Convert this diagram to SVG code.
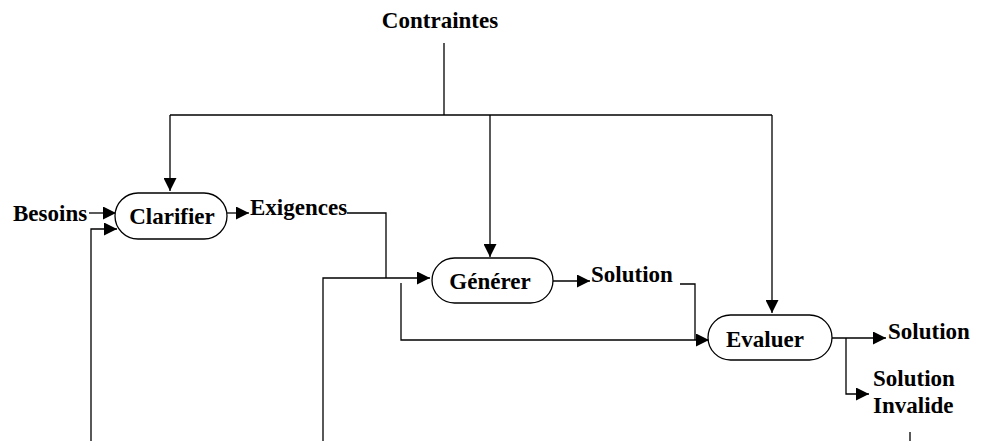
<svg xmlns="http://www.w3.org/2000/svg" width="982" height="441" viewBox="0 0 982 441">
<defs>
<style>
.t{font-family:"Liberation Serif","Times New Roman",serif;font-weight:bold;font-size:23px;fill:#000}
.n{fill:#fff;stroke:#000;stroke-width:1.3}
.c{fill:none;stroke:#000;stroke-width:1.3}
</style>
<marker id="a" viewBox="0 0 13 13" refX="13" refY="6.5" markerWidth="13" markerHeight="13" markerUnits="userSpaceOnUse" orient="auto">
<path d="M0,0L13,6.5L0,13Z" fill="#000"/>
</marker>
</defs>
<rect width="982" height="441" fill="#fff"/>
<g id="connectors">
<path class="c" d="M444,43V115"/>
<path class="c" d="M170,115H772"/>
<path class="c" d="M170,115V191" marker-end="url(#a)"/>
<path class="c" d="M490,115V257" marker-end="url(#a)"/>
<path class="c" d="M772,115V313" marker-end="url(#a)"/>
<path class="c" d="M89,213H116" marker-end="url(#a)"/>
<path class="c" d="M91,441V229H117" marker-end="url(#a)"/>
<path class="c" d="M227,213H249" marker-end="url(#a)"/>
<path class="c" d="M347,213H386V278"/>
<path class="c" d="M323,441V278H430" marker-end="url(#a)"/>
<path class="c" d="M553,281H590" marker-end="url(#a)"/>
<path class="c" d="M680,284H695V340"/>
<path class="c" d="M401,283V340H709" marker-end="url(#a)"/>
<path class="c" d="M832,338H886" marker-end="url(#a)"/>
<path class="c" d="M846,338V394H869" marker-end="url(#a)"/>
<path class="c" d="M910,432V441"/>
</g>
<g id="contraintes"><text class="t" x="440" y="28" text-anchor="middle">Contraintes</text></g>
<g id="besoins"><text class="t" x="13" y="221">Besoins</text></g>
<g id="clarifier"><rect class="n" x="115" y="193" width="112" height="46" rx="23"/><text class="t" x="172" y="224" text-anchor="middle">Clarifier</text></g>
<g id="exigences"><text class="t" x="250" y="215">Exigences</text></g>
<g id="generer"><rect class="n" x="432" y="258" width="121" height="45" rx="22.5"/><text class="t" x="490" y="289" text-anchor="middle">Générer</text></g>
<g id="solution1"><text class="t" x="591" y="282">Solution</text></g>
<g id="evaluer"><rect class="n" x="708" y="315" width="124" height="45" rx="22.5"/><text class="t" x="765" y="347" text-anchor="middle">Evaluer</text></g>
<g id="solution2"><text class="t" x="888" y="339">Solution</text></g>
<g id="invalide"><text class="t" x="873" y="386">Solution</text><text class="t" x="873" y="413">Invalide</text></g>
</svg>
